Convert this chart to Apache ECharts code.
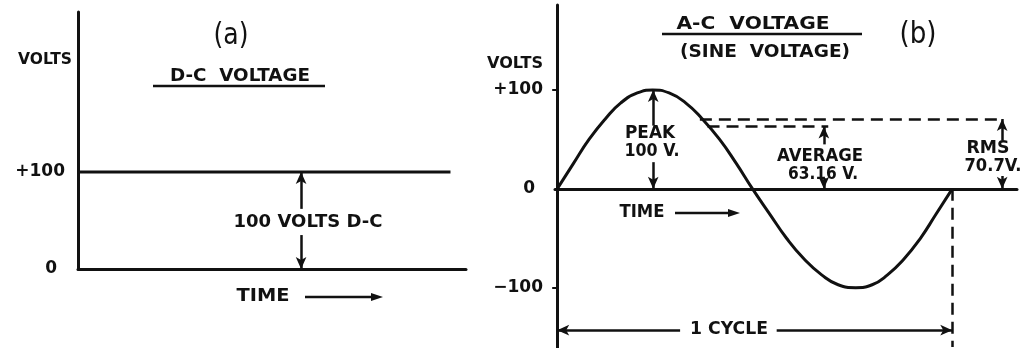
<!DOCTYPE html>
<html>
<head>
<meta charset="utf-8">
<script src="https://cdn.jsdelivr.net/npm/echarts@6/dist/echarts.min.js"></script>
<style>
  html, body { margin: 0; padding: 0; background: #fff; }
  #main { width: 1024px; height: 348px; }
</style>
</head>
<body>
<div id="main"></div>
<script>
// (a) d-c voltage: flat line at +100
var dcTime = [0, 96];
var dcVolts = [100, 100];

// (b) a-c (sine) voltage, time in degrees of one cycle
var acTime = [0, 15, 29, 44, 58, 73, 87, 102, 117, 132, 148, 163, 178, 194, 209, 225, 241, 256, 272, 287, 301, 316, 331, 345, 360];
var acVolts = [0, 26, 50, 71, 87, 97, 100, 97, 87, 71, 50, 26, 0, -26, -50, -71, -87, -97, -100, -97, -87, -71, -50, -26, 0];

var peakVolts = 100;
var avgVolts = 63.16;
var rmsVolts = 70.7;
var cycleDeg = 360;

var dcTicks = [0, 100];
var acTicks = [-100, 0, 100];

var INK = '#111';
var BOLD = 'bold 17px "DejaVu Sans"';

// measure text so hand-lettered widths can be matched with scaleX
var ctx = document.createElement('canvas').getContext('2d');
function lettering(str, cx, cy, w, font) {
  font = font || BOLD;
  ctx.font = font;
  var m = ctx.measureText(str).width;
  return {
    type: 'text', x: cx, y: cy, scaleX: w / m, z: 100, silent: true,
    style: { text: str, font: font, fill: INK, align: 'center', verticalAlign: 'middle' }
  };
}
function hline(x1, x2, y, lw) {
  return { type: 'line', z: 100, silent: true, shape: { x1: x1, y1: y, x2: x2, y2: y }, style: { stroke: INK, lineWidth: lw || 2 } };
}
function arrowRight(x1, x2, y) {
  return [
    hline(x1, x2 - 8, y, 2.5),
    { type: 'polygon', z: 100, silent: true, shape: { points: [[x2, y], [x2 - 12, y - 4], [x2 - 12, y + 4]] }, style: { fill: INK } }
  ];
}

function pairs(xs, ys) {
  return xs.map(function (x, i) { return [x, ys[i]]; });
}

// arrow segment for markLine, head at the second end
function arrowSeg(x1, y1, x2, y2) {
  return [
    { coord: [x1, y1], symbol: 'none' },
    { coord: [x2, y2], symbol: 'arrow', symbolSize: [8, 12] }
  ];
}
function dashSeg(x1, y1, x2, y2) {
  return [
    { coord: [x1, y1], symbol: 'none', lineStyle: { type: [12, 7], width: 2.5 } },
    { coord: [x2, y2], symbol: 'none' }
  ];
}

var dcArrowX = 57.5;
var peakX = 87.5, avgX = 243, rmsX = 405.5;
var cycleY = -143;

var option = {
  animation: false,
  backgroundColor: '#fff',
  grid: [
    { left: 78, top: 12, width: 388, height: 257 },
    { left: 555, top: 5, right: 7, height: 343 }
  ],
  xAxis: [
    {
      gridIndex: 0, type: 'value', min: 0, max: 100,
      axisLine: { lineStyle: { color: INK, width: 3 } },
      axisTick: { show: false }, axisLabel: { show: false }, splitLine: { show: false }
    },
    {
      gridIndex: 1, type: 'value', min: -2, max: 419,
      axisLine: { onZero: true, lineStyle: { color: INK, width: 3 } },
      axisTick: { show: false }, axisLabel: { show: false }, splitLine: { show: false }
    }
  ],
  yAxis: [
    {
      gridIndex: 0, type: 'value', min: 0, max: 265,
      axisLine: { show: true, lineStyle: { color: INK, width: 3 } },
      axisTick: { show: false }, splitLine: { show: false },
      axisLabel: {
        customValues: dcTicks, margin: 13, color: INK,
        fontFamily: 'DejaVu Sans', fontWeight: 'bold', fontSize: 17,
        formatter: function (v) { return v > 0 ? '+' + v : '{z|' + v + '}'; },
        rich: { z: { padding: [0, 8, 0, 0], fontFamily: 'DejaVu Sans', fontWeight: 'bold', fontSize: 17, color: INK } }
      }
    },
    {
      gridIndex: 1, type: 'value', min: -161, max: 186,
      axisLine: { show: true, lineStyle: { color: INK, width: 3 } },
      axisTick: { show: true, customValues: [-100, 100], length: 5, lineStyle: { color: INK, width: 2 } },
      splitLine: { show: false },
      axisLabel: {
        customValues: acTicks, margin: 12, color: INK,
        fontFamily: 'DejaVu Sans', fontWeight: 'bold', fontSize: 17,
        formatter: function (v) {
          if (v > 0) return '+' + v;
          if (v < 0) return '\u2212' + Math.abs(v);
          return '{z|0}';
        },
        rich: { z: { padding: [0, 8, 0, 0], fontFamily: 'DejaVu Sans', fontWeight: 'bold', fontSize: 17, color: INK } }
      }
    }
  ],
  series: [
    {
      name: 'D-C', type: 'line', xAxisIndex: 0, yAxisIndex: 0,
      data: pairs(dcTime, dcVolts), showSymbol: false, silent: true,
      lineStyle: { color: INK, width: 3 },
      markLine: {
        silent: true, label: { show: false }, emphasis: { disabled: true },
        lineStyle: { color: INK, width: 2.5, type: 'solid' },
        data: [
          arrowSeg(dcArrowX, 62, dcArrowX, dcVolts[0]),
          arrowSeg(dcArrowX, 35, dcArrowX, 0)
        ]
      }
    },
    {
      name: 'A-C', type: 'line', xAxisIndex: 1, yAxisIndex: 1,
      data: pairs(acTime, acVolts), smooth: true, showSymbol: false, silent: true,
      lineStyle: { color: INK, width: 3 },
      markLine: {
        silent: true, label: { show: false }, emphasis: { disabled: true },
        lineStyle: { color: INK, width: 2.5, type: 'solid' },
        data: [
          dashSeg(130, rmsVolts, 407, rmsVolts),
          dashSeg(137, avgVolts, 247, avgVolts),
          dashSeg(cycleDeg, 0, cycleDeg, -160),
          arrowSeg(peakX, 64, peakX, peakVolts),
          arrowSeg(peakX, 27, peakX, 0),
          arrowSeg(avgX, 45, avgX, avgVolts),
          arrowSeg(avgX, 11, avgX, 0),
          arrowSeg(rmsX, 49, rmsX, rmsVolts),
          arrowSeg(rmsX, 13, rmsX, 0),
          arrowSeg(112, cycleY, 0, cycleY),
          arrowSeg(200, cycleY, cycleDeg, cycleY)
        ]
      }
    }
  ],
  graphic: [
    // (a)
    lettering('(a)', 231, 36, 35, '30px "DejaVu Sans"'),
    lettering('VOLTS', 45, 60, 54, 'bold 16px "DejaVu Sans"'),
    lettering('D-C  VOLTAGE', 240, 77, 140),
    hline(153, 325, 86, 2.5),
    lettering('100 VOLTS D-C', 308, 223, 149),
    lettering('TIME', 263, 297, 53),
    // (b)
    lettering('A-C  VOLTAGE', 753, 25, 153),
    hline(662, 862, 34, 2.5),
    lettering('(SINE  VOLTAGE)', 765, 53, 170),
    lettering('(b)', 918, 35, 37, '30px "DejaVu Sans"'),
    lettering('VOLTS', 515, 64, 56, 'bold 16px "DejaVu Sans"'),
    lettering('PEAK', 650, 134, 50),
    lettering('100 V.', 652, 152, 55),
    lettering('AVERAGE', 820, 157, 86),
    lettering('63.16 V.', 823, 175, 70),
    lettering('RMS', 988, 149, 43),
    lettering('70.7V.', 993, 167, 57),
    lettering('TIME', 642, 213, 45),
    lettering('1 CYCLE', 729, 330, 78)
  ].concat(arrowRight(305, 383, 297), arrowRight(675, 740, 213))
};

var myChart = echarts.init(document.getElementById('main'));
myChart.setOption(option);
</script>
</body>
</html>
